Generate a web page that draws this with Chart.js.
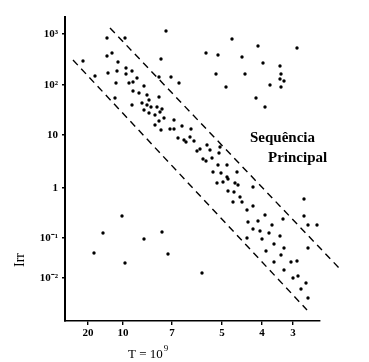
<!DOCTYPE html>
<html>
<head>
<meta charset="utf-8">
<script src="https://cdn.jsdelivr.net/npm/chart.js@4.4.1/dist/chart.umd.min.js"></script>
<style>
html,body{margin:0;padding:0;background:#fff;}
#wrap{width:369px;height:362px;position:relative;}
</style>
</head>
<body>
<div id="wrap"><canvas id="c"></canvas></div>
<script>
// Axis units: hand-drawn axes, values read in axis units (x: temperature axis, y: Irr axis)
const xTickPos    = [2.3, 5.8, 10.7, 15.7, 19.7, 22.8];
const xTickLabels = ['20', '10', '7', '5', '4', '3'];
const yTickPos    = [4.3, 8.3, 13.3, 18.6, 23.6, 28.7];
const yTickLabels = ['10\u207B\u00B2', '10\u207B\u00B9', '1', '10', '10\u00B2', '10\u00B3'];

// main sequence stars
const msX = [4.2,6.0,10.1,4.7,4.2,1.8,5.3,9.6,3.0,4.3,5.2,6.1,6.7,6.1,7.2,5.1,6.4,6.8,9.4,10.6,11.4,7.9,6.8,7.4,8.2,5.0,9.4,8.4,6.7,7.7,8.2,8.6,9.2,9.7,7.9,8.4,9.0,9.5,9.9,9.4,10.9,9.0,10.5,10.9,9.6,11.7,11.3,11.9,12.6,12.1,12.9,12.5,14.2,13.2,13.5,14.5,15.5,13.8,14.1,14.7,15.4,15.3,16.2,14.8,15.6,16.2,17.2,15.2,15.8,16.3,17.0,17.3,16.3,16.9,18.8,17.5,16.8,17.7,18.2,18.8,18.3,19.3,20.0,21.8,23.9,23.9,24.3,25.2,20.7,18.8,19.5,20.4,18.2,19.7,21.5,20.9,21.9,24.3,20.1,21.6,20.9,22.6,23.2,21.9,22.8,23.3,24.1,23.6,24.3];
const msY = [28.3,28.3,29.0,26.8,26.5,26.0,25.9,26.2,24.5,24.8,25.0,25.3,25.0,24.7,24.3,23.8,23.8,23.9,24.4,24.4,23.8,23.5,23.0,22.8,22.6,22.3,22.4,22.1,21.6,21.8,21.6,21.4,21.4,21.2,21.1,20.8,20.6,20.9,20.3,20.0,20.1,19.6,19.2,19.2,19.1,19.5,18.3,18.1,19.2,17.9,18.0,18.4,17.6,17.0,17.2,17.1,17.4,16.2,16.0,16.3,16.8,15.6,15.6,14.9,14.8,14.4,14.9,13.8,13.9,14.2,13.8,13.6,13.0,12.9,13.4,12.4,11.9,11.9,11.1,11.5,9.9,10.0,10.6,10.2,12.2,10.5,9.6,9.6,9.6,9.2,9.0,8.8,8.3,8.2,8.5,7.7,7.3,7.3,7.0,6.6,5.9,5.9,6.0,5.1,4.3,4.5,3.8,3.2,2.3];

// giants (upper right)
const giX = [16.7,14.1,15.3,17.7,15.1,18.0,16.1,19.3,23.2,19.8,21.5,21.6,21.5,21.9,20.5,21.6,19.1,20.0];
const giY = [28.2,26.8,26.6,26.4,24.7,24.7,23.4,27.5,27.3,25.8,25.5,24.7,24.2,24.0,23.6,23.4,22.3,21.4];

// white dwarfs (lower left)
const wdX = [5.7,3.8,2.9,6.0,7.9,9.7,10.3,13.7];
const wdY = [10.5,8.8,6.8,5.8,8.2,8.9,6.7,4.8];

// band limits (dashed)
const upperBandX = [4.5, 27.5];
const upperBandY = [29.3, 5.2];
const lowerBandX = [0.8, 24.2];
const lowerBandY = [26.1, 1.1];

const pts = (xs, ys) => xs.map((x, i) => ({x: x, y: ys[i]}));

const dotStyle = {
  type: 'scatter', pointRadius: 1.7, pointHoverRadius: 1.7,
  pointBackgroundColor: '#000', pointBorderWidth: 0, showLine: false
};
const dashStyle = {
  type: 'line', borderColor: '#000', borderWidth: 1.4, borderDash: [7, 5],
  pointRadius: 0, fill: false, clip: false, tension: 0
};

const textPlugin = {
  id: 'texts',
  afterDraw(chart) {
    const ctx = chart.ctx;
    const xs = chart.scales.x, ys = chart.scales.y;
    ctx.save();
    ctx.fillStyle = '#000';
    ctx.font = 'bold 15px "Liberation Serif"';
    ctx.textBaseline = 'alphabetic';
    ctx.textAlign = 'left';
    ctx.fillText('Sequência', xs.getPixelForValue(18.5), ys.getPixelForValue(17.9));
    ctx.fillText('Principal', xs.getPixelForValue(20.3), ys.getPixelForValue(15.9));
    // x title
    ctx.font = '13px "Liberation Serif"';
    ctx.textAlign = 'left';
    ctx.fillText('T = 10', 128, 358);
    const w = ctx.measureText('T = 10').width;
    ctx.font = '9px "Liberation Serif"';
    ctx.fillText('9', 128 + w + 1, 351);
    // y title
    ctx.translate(24, 260);
    ctx.rotate(-Math.PI / 2);
    ctx.font = '14px "Liberation Serif"';
    ctx.textAlign = 'center';
    ctx.fillText('Irr', 0, 0);
    ctx.restore();
  }
};

new Chart(document.getElementById('c'), {
  data: {
    datasets: [
      Object.assign({data: pts(msX, msY)}, dotStyle),
      Object.assign({data: pts(giX, giY)}, dotStyle),
      Object.assign({data: pts(wdX, wdY)}, dotStyle),
      Object.assign({data: pts(upperBandX, upperBandY)}, dashStyle),
      Object.assign({data: pts(lowerBandX, lowerBandY)}, dashStyle)
    ]
  },
  options: {
    responsive: true,
    maintainAspectRatio: false,
    animation: false,
    layout: {padding: {top: 17, right: 49, left: 0, bottom: 0}},
    plugins: {legend: {display: false}, tooltip: {enabled: false}},
    scales: {
      x: {
        type: 'linear', min: 0, max: 25.5,
        afterBuildTicks: s => { s.ticks = xTickPos.map(v => ({value: v})); },
        afterFit: s => { s.height = 41; },
        border: {display: true, color: '#000', width: 1.6},
        grid: {drawOnChartArea: false, drawTicks: true, tickLength: 4, color: '#000', lineWidth: 1.4},
        ticks: {
          color: '#000', padding: 2, maxRotation: 0, autoSkip: false,
          font: {family: 'Liberation Serif', size: 11, weight: 'bold'},
          callback: (v, i) => xTickLabels[i]
        }
      },
      y: {
        type: 'linear', min: 0, max: 30.4,
        afterBuildTicks: s => { s.ticks = yTickPos.map(v => ({value: v})); },
        afterFit: s => { s.width = 65; },
        border: {display: true, color: '#000', width: 2},
        grid: {drawOnChartArea: false, drawTicks: true, tickLength: 3, color: '#000', lineWidth: 1.4},
        ticks: {
          color: '#000', padding: 4, autoSkip: false,
          font: {family: 'Liberation Serif', size: 11, weight: 'bold'},
          callback: (v, i) => yTickLabels[i]
        }
      }
    }
  },
  plugins: [textPlugin]
});
</script>
</body>
</html>
